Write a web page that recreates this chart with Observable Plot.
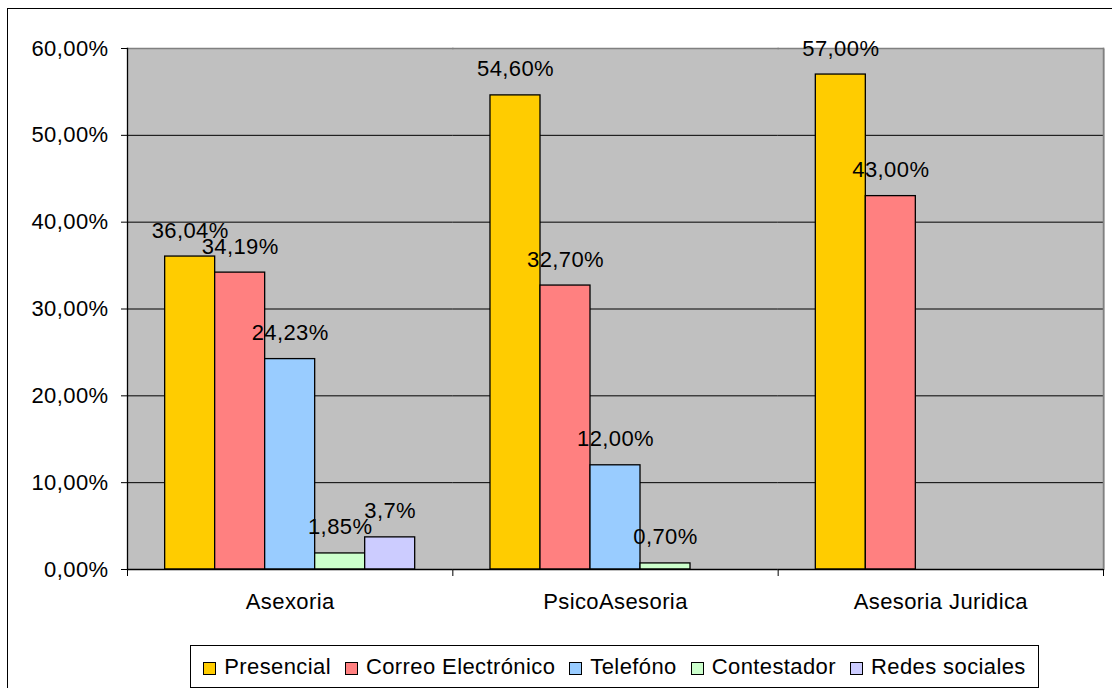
<!DOCTYPE html>
<html>
<head>
<meta charset="utf-8">
<script src="https://cdn.jsdelivr.net/npm/d3@7"></script>
<script src="https://cdn.jsdelivr.net/npm/@observablehq/plot@0.6"></script>
<style>
  html, body { margin: 0; padding: 0; background: #fff; }
  #wrap { position: relative; width: 1112px; height: 688px; overflow: hidden; font-family: Arial, "Liberation Sans", sans-serif; }
  #chart { position: absolute; left: 0; top: 0; }
  #outer { position: absolute; left: 7px; top: 8px; width: 1300px; height: 900px; border: 1.5px solid #000; pointer-events: none; }
  #legend { position: absolute; left: 190px; top: 645px; width: 847px; height: 41px; border: 1px solid #000; background: #fff;
            display: flex; align-items: center; justify-content: center; font-size: 22px; letter-spacing: 0.4px; color: #000; }
  .item { display: flex; align-items: center; margin: 0 7px; white-space: nowrap; }
  .sw { width: 11px; height: 11px; border: 1px solid #000; margin-right: 8px; margin-top: 3px; }
</style>
</head>
<body>
<div id="wrap">
  <div id="chart"></div>
  <div id="outer"></div>
  <div id="legend"></div>
</div>
<script>
const groups = ["Asexoria", "PsicoAsesoria", "Asesoria Juridica"];
const series = ["Presencial", "Correo Electrónico", "Telefóno", "Contestador", "Redes sociales"];
const colors = ["#FFCC00", "#FF8080", "#99CCFF", "#CCFFCC", "#CCCCFF"];

const valuesAsexoria = [0.3604, 0.3419, 0.2423, 0.0185, 0.037];
const valuesPsicoAsesoria = [0.546, 0.327, 0.12, 0.007, null];
const valuesJuridica = [0.57, 0.43, null, null, null];

const labelsAsexoria = ["36,04%", "34,19%", "24,23%", "1,85%", "3,7%"];
const labelsPsicoAsesoria = ["54,60%", "32,70%", "12,00%", "0,70%", null];
const labelsJuridica = ["57,00%", "43,00%", null, null, null];

const yTicks = [0, 0.1, 0.2, 0.3, 0.4, 0.5, 0.6];
const gridTicks = [0.1, 0.2, 0.3, 0.4, 0.5];

const valueSets = [valuesAsexoria, valuesPsicoAsesoria, valuesJuridica];
const labelSets = [labelsAsexoria, labelsPsicoAsesoria, labelsJuridica];
const table = [];
groups.forEach((g, gi) => {
  series.forEach((s, si) => {
    const v = valueSets[gi][si];
    if (v != null) table.push({group: g, series: s, value: v, label: labelSets[gi][si]});
  });
});

const fmt = d => (d * 100).toFixed(2).replace(".", ",") + "%";
const W = 1112, H = 640, mT = 48, mB = 71, mL = 127, mR = 9;
const innerH = H - mT - mB;
const FONT = 22;

const plot = Plot.plot({
  width: W,
  height: H,
  marginTop: mT,
  marginBottom: mB,
  marginLeft: mL,
  marginRight: mR,
  style: {fontFamily: "Arial, 'Liberation Sans', sans-serif", fontSize: FONT + "px", background: "transparent", color: "#000", letterSpacing: "0.4px"},
  fx: {domain: groups, padding: 0, round: false},
  x: {domain: series, paddingInner: 0, paddingOuter: 0.753, round: false, axis: null},
  y: {domain: [0, 0.6]},
  color: {domain: series, range: colors},
  marks: [
    Plot.frame({fill: "#C0C0C0", stroke: null, insetRight: -1, shapeRendering: "crispEdges"}),
    Plot.gridY(gridTicks, {stroke: "#000", strokeOpacity: 1, strokeWidth: 1}),
    Plot.frame({anchor: "top", stroke: "#808080", strokeWidth: 1.5}),
    Plot.frame({anchor: "right", stroke: "#808080", strokeWidth: 1.5, facetAnchor: "right"}),
    Plot.barY(table, {fx: "group", x: "series", y: "value", fill: "series", stroke: "#000", strokeWidth: 1.3, inset: 0}),
    Plot.text(table, {fx: "group", x: "series", y: "value", text: "label", dy: -26, fill: "#000", fontSize: FONT}),
    Plot.frame({anchor: "left", stroke: "#000", strokeWidth: 1.3, facetAnchor: "left"}),
    Plot.ruleY([0], {stroke: "#000", strokeWidth: 1.3}),
    Plot.frame({anchor: "left", stroke: "#000", strokeWidth: 1, insetTop: innerH, insetBottom: -6}),
    Plot.frame({anchor: "right", stroke: "#000", strokeWidth: 1, insetTop: innerH, insetBottom: -6, facetAnchor: "right"}),
    Plot.axisY({ticks: yTicks, tickFormat: fmt, tickSize: 6, tickPadding: 13, fontSize: FONT, label: null, stroke: "#000"}),
    Plot.axisFx({anchor: "bottom", tickSize: 0, tickPadding: 24, fontSize: FONT, label: null})
  ]
});
document.getElementById("chart").appendChild(plot);

const legend = document.getElementById("legend");
series.forEach((s, i) => {
  const item = document.createElement("div");
  item.className = "item";
  const sw = document.createElement("span");
  sw.className = "sw";
  sw.style.background = colors[i];
  const t = document.createElement("span");
  t.textContent = s;
  item.appendChild(sw);
  item.appendChild(t);
  legend.appendChild(item);
});
</script>
</body>
</html>
